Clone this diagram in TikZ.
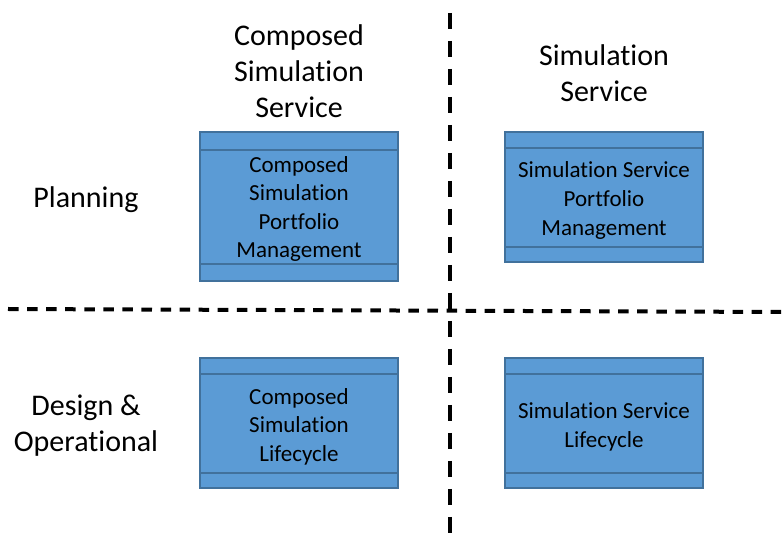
\documentclass[tikz,border=0pt]{standalone}
\usepackage{fontspec}
\setmainfont{Carlito}[Ligatures=NoCommon]
\usepackage{xcolor}
\usepackage{tikz}
\usetikzlibrary{positioning,calc}
\definecolor{boxfill}{HTML}{5B9BD5}
\definecolor{boxedge}{HTML}{41719C}

\begin{document}
\begin{tikzpicture}[
					x=0.75pt, y=-0.75pt,
					% Khung chức năng (xanh)
					fbox/.style={
						rectangle, draw=boxedge, line width=1.2pt, fill=boxfill,
						minimum width=148.5pt, inner sep=0pt
					},
					% Chữ trong khung
					ftext/.style={align=center, inner sep=0pt,
						font=\fontsize{17.25}{21.4}\selectfont},
					% Đường ngăn bên trong khung
					fline/.style={draw=boxedge, line width=1.1pt},
					% Tiêu đề cột / hàng
					head/.style={align=center, inner sep=0pt,
						font=\fontsize{22.5}{27}\selectfont},
					% Đường phân vùng nét đứt
					vsplit/.style={line width=3pt, dash pattern=on 12pt off 9pt},
					hsplit/.style={line width=3pt, dash pattern=on 7.9pt off 6.4pt}
					]
					\useasboundingbox (0,0) rectangle (783,538);
					
					% --- 1. ĐƯỜNG PHÂN VÙNG ---
					\coordinate (vtop) at (450,13);
					\coordinate (vbot) at (450,538);
					\coordinate (hleft) at (8,309);
					\coordinate (hright) at (783,312);
					\draw[vsplit] (vtop) -- (vbot);
					\draw[hsplit] (hleft) -- (hright);
					
					% --- 2. TIÊU ĐỀ ---
					\node[head] (hcomp) at (299,71) {Composed\\Simulation\\Service};
					\node[head] (hsim) at (604,73) {Simulation\\Service};
					\node[head] (hplan) at (86,200) {Planning};
					\node[head] (hdes) at (86,426) {Design \&\\Operational};
					
					% --- 3. CÁC KHUNG ---
					\node[fbox, minimum height=111.75pt] (cport) at (299,206.5) {};
					\node[fbox, minimum height=97.5pt] (sport) at (604,197) {};
					\node[fbox, minimum height=97.5pt] (clife) at (299,423) {};
					\node[fbox, minimum height=97.5pt] (slife) at (604,423) {};
					
					% Vạch ngang trên / dưới trong mỗi khung
					\draw[fline] ($(cport.north west)+(0,19)$) -- ($(cport.north east)+(0,19)$);
					\draw[fline] ($(cport.south west)+(0,-18)$) -- ($(cport.south east)+(0,-18)$);
					\foreach \b in {sport, clife, slife} {
						\draw[fline] ($(\b.north west)+(0,17)$) -- ($(\b.north east)+(0,17)$);
						\draw[fline] ($(\b.south west)+(0,-16)$) -- ($(\b.south east)+(0,-16)$);
					}
					
					% Chữ trong các khung
					\node[ftext] (tcport) at ($(cport.center)+(0,2.5)$)
					{Composed\\Simulation\\Portfolio\\Management};
					\node[ftext] (tsport) at ($(sport.center)+(0,3.5)$)
					{Simulation Service\\Portfolio\\Management};
					\node[ftext] (tclife) at ($(clife.center)+(0,3.5)$)
					{Composed\\Simulation\\Lifecycle};
					\node[ftext] (tslife) at ($(slife.center)+(0,4)$)
					{Simulation Service\\Lifecycle};
				\end{tikzpicture}
\end{document}
